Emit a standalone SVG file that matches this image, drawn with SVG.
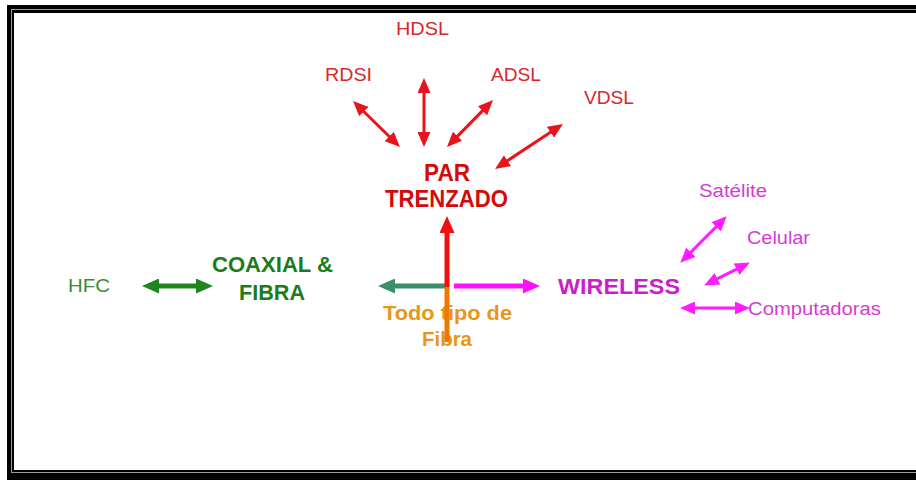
<svg xmlns="http://www.w3.org/2000/svg" width="916" height="480" viewBox="0 0 916 480">
  <style>
    .lbl { font-family: "Liberation Sans", Arial, sans-serif; font-size: 18px; }
    .hd  { font-family: "Liberation Sans", Arial, sans-serif; font-weight: bold; }
    .red-s { fill: #d8262c; }
    .red-b { fill: #d40a0a; }
    .grn-s { fill: #3a8a3a; }
    .grn-b { fill: #1a7d1a; }
    .mag-s { fill: #d43cd4; }
    .mag-b { fill: #cc1ccc; }
    .org-b { fill: #e8961a; }
    .ln { fill: none; stroke-linecap: butt; }
    .thin { stroke-width: 3; }
    .thick { stroke-width: 5; }
  </style>
  <defs>
    <marker id="hRed" markerUnits="userSpaceOnUse" markerWidth="15" markerHeight="13" refX="10" refY="6.5" orient="auto-start-reverse">
      <path d="M0,0 L15,6.5 L0,13 z" fill="#e8141c"/>
    </marker>
    <marker id="hMag" markerUnits="userSpaceOnUse" markerWidth="15" markerHeight="13" refX="10" refY="6.5" orient="auto-start-reverse">
      <path d="M0,0 L15,6.5 L0,13 z" fill="#ff1cff"/>
    </marker>
    <marker id="bRed" markerUnits="userSpaceOnUse" markerWidth="17" markerHeight="15" refX="11" refY="7.5" orient="auto-start-reverse">
      <path d="M0,0 L17,7.5 L0,15 z" fill="#f01010"/>
    </marker>
    <marker id="bGrn" markerUnits="userSpaceOnUse" markerWidth="17" markerHeight="15" refX="11" refY="7.5" orient="auto-start-reverse">
      <path d="M0,0 L17,7.5 L0,15 z" fill="#1f861f"/>
    </marker>
    <marker id="bTeal" markerUnits="userSpaceOnUse" markerWidth="17" markerHeight="15" refX="11" refY="7.5" orient="auto-start-reverse">
      <path d="M0,0 L17,7.5 L0,15 z" fill="#3a8f6a"/>
    </marker>
    <marker id="bMag" markerUnits="userSpaceOnUse" markerWidth="17" markerHeight="15" refX="11" refY="7.5" orient="auto-start-reverse">
      <path d="M0,0 L17,7.5 L0,15 z" fill="#ff10ff"/>
    </marker>
  </defs>

  <!-- page frame: black / grey / black rules around a white sheet -->
  <rect x="7" y="5" width="920" height="480" fill="#000"/>
  <rect x="11" y="9" width="920" height="464" fill="#9a9a9a"/>
  <rect x="12" y="10" width="920" height="462" fill="#000"/>
  <rect x="14" y="13" width="920" height="457" fill="#fff"/>

  <!-- twisted pair family -->
  <g id="hdsl"><text class="lbl red-s" x="396" y="35" textLength="53" lengthAdjust="spacingAndGlyphs">HDSL</text></g>
  <g id="rdsi"><text class="lbl red-s" x="325" y="81" textLength="47" lengthAdjust="spacingAndGlyphs">RDSI</text></g>
  <g id="adsl"><text class="lbl red-s" x="491" y="81" textLength="50" lengthAdjust="spacingAndGlyphs">ADSL</text></g>
  <g id="vdsl"><text class="lbl red-s" x="584" y="104" textLength="50" lengthAdjust="spacingAndGlyphs">VDSL</text></g>
  <g id="par-trenzado">
    <text class="hd red-b" font-size="24" x="424" y="181" textLength="46" lengthAdjust="spacingAndGlyphs">PAR</text>
    <text class="hd red-b" font-size="24" x="385" y="207" textLength="123" lengthAdjust="spacingAndGlyphs">TRENZADO</text>
  </g>

  <!-- coaxial family -->
  <g id="hfc"><text class="lbl grn-s" x="68" y="292" textLength="42" lengthAdjust="spacingAndGlyphs">HFC</text></g>
  <g id="coaxial-fibra">
    <text class="hd grn-b" font-size="22" x="212" y="272" textLength="121" lengthAdjust="spacingAndGlyphs">COAXIAL &amp;</text>
    <text class="hd grn-b" font-size="22" x="239" y="300" textLength="66" lengthAdjust="spacingAndGlyphs">FIBRA</text>
  </g>

  <!-- wireless family -->
  <g id="wireless"><text class="hd mag-b" font-size="22" x="558" y="294" textLength="122" lengthAdjust="spacingAndGlyphs">WIRELESS</text></g>
  <g id="satelite"><text class="lbl mag-s" x="699" y="197" textLength="68" lengthAdjust="spacingAndGlyphs">Satélite</text></g>
  <g id="celular"><text class="lbl mag-s" x="747" y="244" textLength="63" lengthAdjust="spacingAndGlyphs">Celular</text></g>
  <g id="computadoras"><text class="lbl mag-s" x="748" y="315" textLength="133" lengthAdjust="spacingAndGlyphs">Computadoras</text></g>

  <!-- fibre -->
  <g id="todo-tipo-fibra">
    <text class="hd org-b" font-size="21" x="383" y="320" textLength="129" lengthAdjust="spacingAndGlyphs">Todo tipo de</text>
    <text class="hd org-b" font-size="21" x="422" y="346" textLength="50" lengthAdjust="spacingAndGlyphs">Fibra</text>
  </g>

  <g id="connectors">
    <!-- twisted pair variants -->
    <line class="ln thin" stroke="#e8141c" x1="356.6" y1="104.5" x2="396.4" y2="143.5" marker-start="url(#hRed)" marker-end="url(#hRed)"/>
    <line class="ln thin" stroke="#e8141c" x1="424" y1="83" x2="424" y2="142" marker-start="url(#hRed)" marker-end="url(#hRed)"/>
    <line class="ln thin" stroke="#e8141c" x1="489.5" y1="103.6" x2="450.5" y2="143.4" marker-start="url(#hRed)" marker-end="url(#hRed)"/>
    <line class="ln thin" stroke="#e8141c" x1="558.8" y1="126.8" x2="499.2" y2="166.2" marker-start="url(#hRed)" marker-end="url(#hRed)"/>

    <!-- central cross -->
    <line class="ln thick" stroke="#3a8f6a" x1="447" y1="286" x2="384" y2="286" marker-end="url(#bTeal)"/>
    <line class="ln thick" stroke="#ff10ff" x1="454" y1="286" x2="534" y2="286" marker-end="url(#bMag)"/>
    <line class="ln thick" stroke="#f07800" x1="447" y1="342" x2="447" y2="286"/>
    <line class="ln thick" stroke="#f01010" x1="447" y1="287" x2="447" y2="222" marker-end="url(#bRed)"/>

    <!-- HFC link -->
    <line class="ln thick" stroke="#1f861f" x1="148" y1="286" x2="207" y2="286" marker-start="url(#bGrn)" marker-end="url(#bGrn)"/>

    <!-- wireless variants -->
    <line class="ln thin" stroke="#ff1cff" x1="723.2" y1="219.8" x2="683.8" y2="259.2" marker-start="url(#hMag)" marker-end="url(#hMag)"/>
    <line class="ln thin" stroke="#ff1cff" x1="745.4" y1="264.8" x2="708.6" y2="283.2" marker-start="url(#hMag)" marker-end="url(#hMag)"/>
    <line class="ln thin" stroke="#ff1cff" x1="685" y1="308" x2="745" y2="308" marker-start="url(#hMag)" marker-end="url(#hMag)"/>
  </g>
</svg>
